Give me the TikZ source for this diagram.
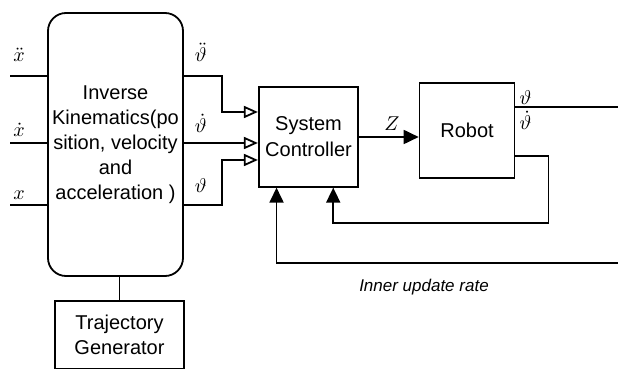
\documentclass[tikz,border=0pt]{standalone}
\usepackage{fontspec}
\setmainfont{Liberation Sans}
\usetikzlibrary{positioning,arrows.meta}

\begin{document}
\begin{tikzpicture}[
    font=\fontsize{10}{12.5}\selectfont,
    line width=0.9pt,
    box/.style={draw, align=center, inner sep=2pt},
    ikbox/.style={box, rounded corners=9pt, minimum width=67.5pt, minimum height=131.5pt},
    sig/.style={inner sep=0pt},
    openarr/.style={-{Triangle[open, length=7pt, width=6pt]}},
    fillarr/.style={-{Triangle[length=7.5pt, width=7pt]}}
  ]
    \useasboundingbox (0,0) rectangle (309pt,-184.5pt);

    \node[ikbox] (ik) at (57.75pt,-72.25pt) {Inverse\\Kinematics(po\\sition, velocity\\and\\acceleration )};
    \node[box, minimum width=49.75pt, minimum height=49.75pt, right=37pt of ik, yshift=3.75pt] (sc) {System\\[0.5pt]Controller};
    \node[box, minimum width=47.5pt, minimum height=47.75pt, right=29.75pt of sc, yshift=3.25pt] (robot) {Robot};
    \node[box, minimum width=64.5pt, minimum height=34pt, below=11.5pt of ik, xshift=2pt] (tg) {Trajectory\\Generator};

    % inputs of the inverse kinematics
    \coordinate (xacc) at ([xshift=-18.5pt, yshift=34.25pt]ik.west);
    \coordinate (xvel) at ([xshift=-18.5pt, yshift=0.75pt]ik.west);
    \coordinate (xpos) at ([xshift=-18.5pt, yshift=-30.25pt]ik.west);
    \draw (xacc) -- (xacc -| ik.west);
    \draw (xvel) -- (xvel -| ik.west);
    \draw (xpos) -- (xpos -| ik.west);
    \node[sig, anchor=base] (lxacc) at ([xshift=4.5pt, yshift=7pt]xacc) {$\ddot{x}$};
    \node[sig, anchor=base] (lxvel) at ([xshift=4.5pt, yshift=3pt]xvel) {$\dot{x}$};
    \node[sig, anchor=base] (lxpos) at ([xshift=4.5pt, yshift=2.5pt]xpos) {$x$};

    % joint references
    \draw[openarr] ([yshift=34.25pt]ik.east) -- ++(19pt,0) |- ([yshift=12.5pt]sc.west);
    \draw[openarr] ([yshift=-3pt]sc.west -| ik.east) -- ([yshift=-3pt]sc.west);
    \draw[openarr] ([yshift=-30.25pt]ik.east) -- ++(19pt,0) |- ([yshift=-11.5pt]sc.west);
    \node[sig, anchor=base] (tacc) at ([xshift=8.5pt, yshift=41.25pt]ik.east) {$\ddot{\vartheta}$};
    \node[sig, anchor=base] (tvel) at ([xshift=8.5pt, yshift=5.75pt]ik.east) {$\dot{\vartheta}$};
    \node[sig, anchor=base] (tpos) at ([xshift=8.5pt, yshift=-24.25pt]ik.east) {$\vartheta$};

    \draw (tg.north |- ik.south) -- (tg.north);

    \draw[fillarr] (sc.east) -- (sc.east -| robot.west) node[sig, midway, above=3pt, xshift=1.5pt] (zlbl) {$Z$};

    % robot outputs and feedback
    \draw ([yshift=11.9pt]robot.east) -- ++(53pt,0);
    \node[sig, anchor=base] (rpos) at ([xshift=5pt, yshift=12.75pt]robot.east) {$\vartheta$};
    \node[sig, anchor=base] (rvel) at ([xshift=5pt, yshift=0.25pt]robot.east) {$\dot{\vartheta}$};
    \draw[fillarr] ([yshift=-12.6pt]robot.east) -- ++(16.5pt,0) -- ++(0,-33.65pt) -| ([xshift=12.35pt]sc.south);

    \coordinate (rimfb) at (309pt,-131.65pt);
    \draw[fillarr] (rimfb) -| ([xshift=-16pt]sc.south);
    \node[font=\fontsize{8.5}{10}\selectfont\itshape] (rate) at (212pt,-143.5pt) {Inner update rate};
  \end{tikzpicture}
\end{document}
